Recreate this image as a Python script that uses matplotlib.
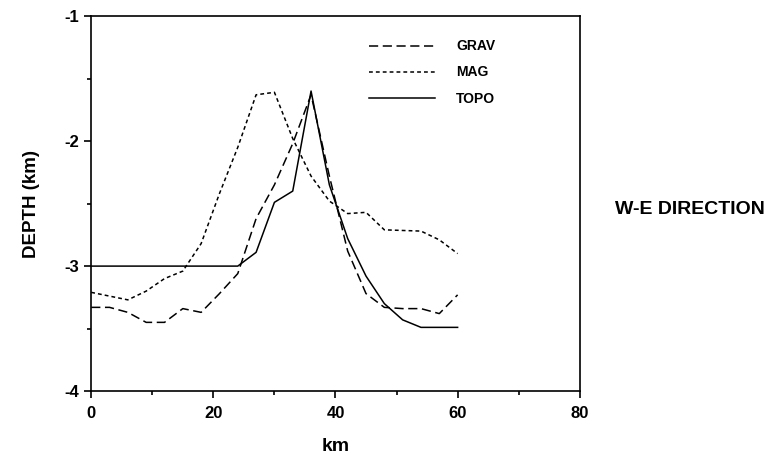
import matplotlib
matplotlib.use("Agg")
import matplotlib.pyplot as plt
from matplotlib.ticker import MultipleLocator

plt.rcParams['font.family'] = ['Liberation Sans', 'DejaVu Sans']
plt.rcParams['axes.unicode_minus'] = False

# depth profiles along the W-E line (km)
grav_x = [0, 3, 6, 9, 12, 15, 18, 21, 24, 27, 30, 33, 36, 39, 42, 45, 48, 51, 54, 57, 60]
grav_y = [-3.33, -3.33, -3.37, -3.45, -3.45, -3.34, -3.37, -3.22, -3.06, -2.62, -2.35, -2.02,
          -1.63, -2.28, -2.88, -3.22, -3.33, -3.34, -3.34, -3.38, -3.23]

mag_x = [0, 6, 9, 12, 15, 18, 21, 24, 27, 30, 33, 36, 39, 42, 45, 48, 54, 57, 60]
mag_y = [-3.21, -3.27, -3.2, -3.1, -3.04, -2.82, -2.42, -2.05, -1.63, -1.61, -1.98, -2.28,
         -2.48, -2.58, -2.57, -2.71, -2.72, -2.79, -2.9]

topo_x = [0, 24, 27, 30, 33, 36, 39, 42, 45, 48, 51, 54, 60]
topo_y = [-3.0, -3.0, -2.89, -2.49, -2.40, -1.6, -2.35, -2.78, -3.08, -3.3, -3.43, -3.49, -3.49]

fig = plt.figure(figsize=(7.73, 4.58), dpi=100)
ax = fig.add_axes([0.118, 0.146, 0.632, 0.819])

ax.plot(grav_x, grav_y, color='black', lw=1.1, dashes=(6, 3), label='GRAV')
ax.plot(mag_x, mag_y, color='black', lw=1.1, dashes=(2.5, 2), label='MAG')
ax.plot(topo_x, topo_y, color='black', lw=1.1, label='TOPO')

ax.set_xlim(0, 80)
ax.set_ylim(-4, -1)
ax.xaxis.set_major_locator(MultipleLocator(20))
ax.xaxis.set_minor_locator(MultipleLocator(10))
ax.yaxis.set_major_locator(MultipleLocator(1))
ax.yaxis.set_minor_locator(MultipleLocator(0.5))
ax.tick_params(which='both', direction='out', width=1.2, labelsize=12)
ax.tick_params(axis='x', pad=6)
ax.tick_params(which='major', length=5)
ax.tick_params(which='minor', length=3)
for lbl in ax.get_xticklabels() + ax.get_yticklabels():
    lbl.set_fontweight('bold')
for s in ax.spines.values():
    s.set_linewidth(1.2)

ax.set_xlabel('km', fontsize=14, fontweight='bold', labelpad=12)
ax.set_ylabel('DEPTH (km)', fontsize=13.5, fontweight='bold', labelpad=18)

leg = ax.legend(loc='upper left', bbox_to_anchor=(0.544, 0.971), frameon=False,
                handlelength=4.75, handletextpad=1.5, labelspacing=0.87, fontsize=10)
for t in leg.get_texts():
    t.set_fontweight('bold')

fig.text(0.795, 0.543, 'W-E DIRECTION', fontsize=14, fontweight='bold', va='center')

fig.savefig('out.png', dpi=100)
